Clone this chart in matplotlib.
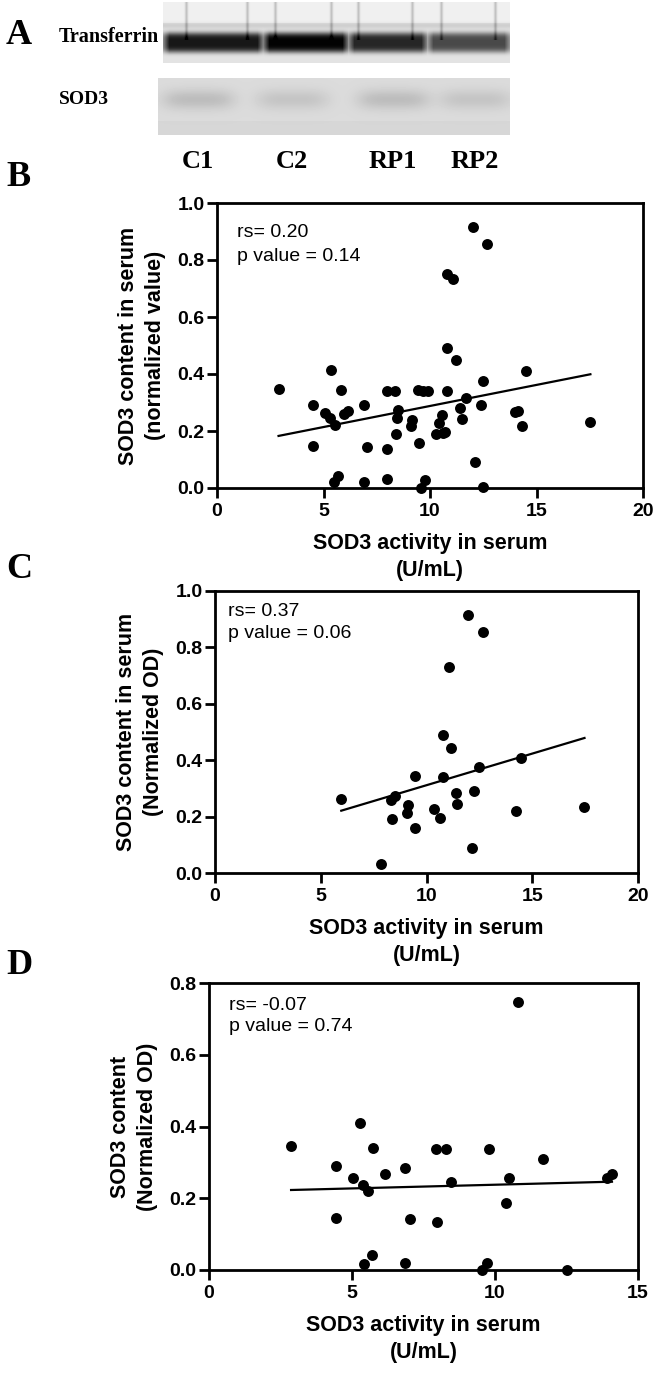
"""
SOD3 blot and correlation plots (panels A-D).
"""
import numpy as np
from matplotlib import pyplot as plt

SANS = ["Liberation Sans", "DejaVu Sans"]
SERIF = ["Liberation Serif", "DejaVu Serif"]

# panel A: lane labels and relative band darkness read from the blot
lanes = ["C1", "C2", "RP1", "RP2"]
transferrin_dark = [0.80, 0.88, 0.74, 0.60]
sod3_dark = [0.12, 0.09, 0.12, 0.09]
streaks = [186, 247, 275, 331, 358, 412, 441, 495]  # thin vertical gel marks (px)

# panel B
b_x = [2.89, 4.50, 4.50, 5.34, 5.08, 5.30, 5.55, 5.81, 5.97, 6.17,
       5.47, 5.70, 6.88, 6.88, 7.06, 7.97, 8.36, 7.97, 7.97, 8.50,
       8.44, 8.40, 9.14, 9.10, 9.45, 9.69, 9.89, 9.50, 9.77, 9.60,
       10.55, 10.40, 10.30, 10.60, 10.70, 10.80, 10.78, 10.78, 11.10, 11.20,
       11.40, 11.48, 11.70, 12.03, 12.10, 12.38, 12.50, 12.50, 12.69, 13.98,
       14.14, 14.30, 14.50, 17.53]
b_y = [0.349, 0.292, 0.149, 0.415, 0.263, 0.246, 0.222, 0.345, 0.260, 0.269,
       0.020, 0.043, 0.290, 0.021, 0.144, 0.339, 0.339, 0.137, 0.032, 0.275,
       0.246, 0.190, 0.240, 0.219, 0.345, 0.342, 0.339, 0.158, 0.027, 0.000,
       0.257, 0.228, 0.190, 0.193, 0.195, 0.491, 0.339, 0.752, 0.733, 0.448,
       0.281, 0.242, 0.316, 0.916, 0.090, 0.290, 0.377, 0.002, 0.857, 0.267,
       0.269, 0.219, 0.410, 0.232]
b_fit = (0.01478, 0.140)  # slope, intercept

# panel C
c_x = [5.97, 8.33, 8.53, 8.37, 7.87, 9.47, 9.14, 9.07, 9.47, 10.34,
       10.65, 10.76, 10.76, 11.05, 11.15, 11.39, 11.44, 11.94, 12.13, 12.25,
       12.49, 12.65, 14.25, 14.45, 17.47]
c_y = [0.262, 0.259, 0.273, 0.192, 0.033, 0.344, 0.241, 0.214, 0.159, 0.226,
       0.194, 0.488, 0.341, 0.732, 0.445, 0.282, 0.245, 0.915, 0.088, 0.292,
       0.376, 0.853, 0.220, 0.409, 0.233]
c_fit = (0.02242, 0.0871)

# panel D
d_x = [2.87, 4.44, 4.44, 5.28, 5.02, 5.37, 5.57, 5.72, 5.69, 5.43,
       6.15, 6.85, 6.85, 7.02, 7.93, 8.28, 7.97, 8.45, 9.79, 9.73,
       9.56, 10.37, 10.49, 10.80, 11.67, 12.50, 13.92, 14.09]
d_y = [0.346, 0.290, 0.146, 0.411, 0.257, 0.237, 0.220, 0.341, 0.042, 0.016,
       0.267, 0.285, 0.019, 0.141, 0.337, 0.337, 0.135, 0.244, 0.337, 0.020,
       0.000, 0.186, 0.257, 0.747, 0.309, 0.000, 0.257, 0.267]
d_fit = (0.00206, 0.2171)

W, H = 665, 1376
fig = plt.figure(figsize=(W / 100, H / 100), dpi=100)


def px_axes(left, top, right, bottom):
    return fig.add_axes([left / W, 1 - bottom / H, (right - left) / W, (bottom - top) / H])


# ---- panel A: blot drawn in pixel coordinates
ax_a = px_axes(0, 0, W, 140)
ax_a.set_xlim(0, W)
ax_a.set_ylim(140, 0)
ax_a.axis("off")

edges = [163, 263, 348, 427, 510]
rows = np.arange(2, 63)[:, None].astype(float)
tf_img = []
for i in range(4):
    cols = np.arange(edges[i], edges[i + 1])[None, :].astype(float)
    taper = np.clip(np.minimum(cols - edges[i], edges[i + 1] - cols) / 6, 0, 1)
    band = np.exp(-((rows - 42) / 10) ** 4)
    haze = 0.08 * np.exp(-((rows - 25) / 3) ** 2)
    bg = 0.94 - 0.05 * (rows > 22)
    img = bg - haze - transferrin_dark[i] * band * (0.45 + 0.55 * taper)
    for s in streaks:
        if edges[i] <= s < edges[i + 1]:
            img = img - 0.18 * np.exp(-((cols - s) / 1.5) ** 2) * (rows < 40)
    tf_img.append(img)
tf_img = np.clip(np.hstack(tf_img), 0, 1)
ax_a.imshow(tf_img, cmap="gray", vmin=0, vmax=1, extent=(163, 510, 63, 2),
            aspect="auto", interpolation="bilinear")

centers = [198, 292, 393, 475]
srows = np.arange(78, 135)[:, None].astype(float)
scols = np.arange(158, 510)[None, :].astype(float)
sod_img = 0.86 - 0.02 * (srows > 120) + 0 * scols
for c, d in zip(centers, sod3_dark):
    sod_img = sod_img - d * np.exp(-((srows - 99) / 10) ** 2) * np.exp(-((scols - c) / 36) ** 4)
ax_a.imshow(sod_img, cmap="gray", vmin=0, vmax=1, extent=(158, 510, 135, 78),
            aspect="auto", interpolation="bilinear")

ax_a.text(6, 35, "A", fontsize=26, fontweight="bold", family=SERIF, va="center")
ax_a.text(59, 37, "Transferrin", fontsize=14.5, fontweight="bold", family=SERIF, va="center")
ax_a.text(59, 99, "SOD3", fontsize=14, fontweight="bold", family=SERIF, va="center")
for c, name in zip(centers, lanes):
    ax_a.text(c, 162, name, fontsize=19, fontweight="bold", family=SERIF,
              ha="center", va="center", clip_on=False)


def scatter_panel(box, x, y, fit, xmax, ymax, ylabel, stats, txt_pos, letter, letter_y):
    ax = px_axes(*box)
    ax.scatter(x, y, s=62, color="black", zorder=3, clip_on=False, linewidths=0)
    xs = np.array([min(x), max(x)])
    ax.plot(xs, fit[0] * xs + fit[1], color="black", lw=1.6)
    ax.set_xlim(0, xmax)
    ax.set_ylim(0, ymax)
    ax.set_xticks(np.arange(0, xmax + 1, 5))
    ax.set_yticks(np.arange(0, ymax + 0.01, 0.2))
    ax.set_yticklabels([f"{v:.1f}" for v in np.arange(0, ymax + 0.01, 0.2)])
    for s in ax.spines.values():
        s.set_linewidth(2)
    ax.tick_params(direction="out", length=7, width=2, labelsize=14)
    ax.tick_params(axis="y", pad=2)
    ax.tick_params(axis="x", pad=4)
    for lab in ax.get_xticklabels() + ax.get_yticklabels():
        lab.set_fontweight("bold")
        lab.set_family(SANS)
    ax.set_xlabel("SOD3 activity in serum\n(U/mL)", fontsize=15.5, fontweight="bold",
                  family=SANS, labelpad=9, linespacing=1.4)
    ax.set_ylabel(ylabel, fontsize=15.5, fontweight="bold", family=SANS,
                  labelpad=8, linespacing=1.4)
    ax.text(txt_pos[0], txt_pos[1], stats[0], transform=ax.transAxes,
            fontsize=14, family=SANS, va="center")
    ax.text(txt_pos[0], txt_pos[2], stats[1], transform=ax.transAxes,
            fontsize=14, family=SANS, va="center")
    fig.text(6 / W, 1 - letter_y / H, letter, fontsize=26, fontweight="bold",
             family=SERIF, va="center")
    return ax


scatter_panel((217, 203, 643, 488), b_x, b_y, b_fit, 20, 1.0,
              "SOD3 content in serum\n(normalized value)",
              ("rs= 0.20", "p value = 0.14"), (0.046, 0.895, 0.811), "B", 177)
scatter_panel((215, 591, 638, 873), c_x, c_y, c_fit, 20, 1.0,
              "SOD3 content in serum\n(Normalized OD)",
              ("rs= 0.37", "p value = 0.06"), (0.031, 0.927, 0.850), "C", 569)
scatter_panel((209, 983, 638, 1270), d_x, d_y, d_fit, 15, 0.8,
              "SOD3 content\n(Normalized OD)",
              ("rs= -0.07", "p value = 0.74"), (0.047, 0.923, 0.848), "D", 965)

fig.savefig("out.png", dpi=100)
